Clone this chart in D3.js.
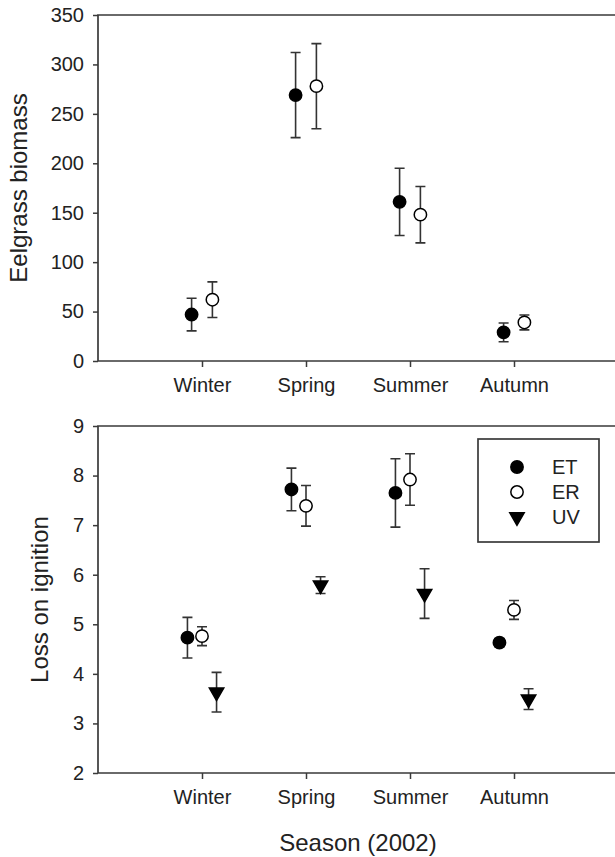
<!DOCTYPE html>
<html>
<head>
<meta charset="utf-8">
<script src="https://cdn.jsdelivr.net/npm/d3@7"></script>
<style>
  body { margin: 0; background: #fff; }
  svg { display: block; font-family: "Liberation Sans", Arial, sans-serif; }
</style>
</head>
<body>
<svg id="chart" width="615" height="857"></svg>
<script>
// data
const seasons = [ 'Winter', 'Spring', 'Summer', 'Autumn' ];

const biomassET = [ 47, 269, 161, 29 ];
const biomassETErr = [ 16.5, 43, 34, 9.5 ];
const biomassER = [ 62, 278, 148, 39 ];
const biomassERErr = [ 18, 43, 28.5, 7.5 ];
const biomassTicks = [ 0, 50, 100, 150, 200, 250, 300, 350 ];

const loiET = [ 4.73, 7.72, 7.65, 4.63 ];
const loiETErr = [ 0.41, 0.43, 0.69, 0.08 ];
const loiER = [ 4.76, 7.39, 7.92, 5.29 ];
const loiERErr = [ 0.19, 0.41, 0.52, 0.19 ];
const loiUV = [ 3.63, 5.79, 5.62, 3.49 ];
const loiUVErr = [ 0.40, 0.17, 0.50, 0.21 ];
const loiTicks = [ 2, 3, 4, 5, 6, 7, 8, 9 ];

const legendNames = [ 'ET', 'ER', 'UV' ];

const ink = '#222';
const svg = d3.select( '#chart' );

// both panels share the category axis (domain 0..5, right edge runs off the page)
const x = d3.scaleLinear().domain( [ 0, 5 ] ).range( [ 98, 618 ] );

function series( values, errs, offset, shape ) {
	return values.map( ( v, i ) => ( { x: i + 1 + offset, y: v, e: errs[ i ], shape } ) );
}

function renderPanel( opts ) {
	const y = d3.scaleLinear().domain( opts.domain ).range( [ opts.bottom, opts.top ] );
	const g = svg.append( 'g' );

	// frame: left, top and bottom lines
	g.append( 'path' )
		.attr( 'd', `M${ x( 5 ) },${ y( opts.domain[ 1 ] ) }H${ x( 0 ) }V${ y( opts.domain[ 0 ] ) }H${ x( 5 ) }` )
		.attr( 'fill', 'none' )
		.attr( 'stroke', '#3a3a3a' )
		.attr( 'stroke-width', 1.7 );

	const yAxis = d3.axisLeft( y )
		.tickValues( opts.ticks )
		.tickFormat( d3.format( 'd' ) )
		.tickSize( 5 )
		.tickSizeOuter( 0 )
		.tickPadding( 9 );
	const ya = g.append( 'g' )
		.attr( 'transform', `translate(${ x( 0 ) },0)` )
		.call( yAxis );
	ya.select( '.domain' ).remove();

	const xAxis = d3.axisBottom( x )
		.tickValues( [ 1, 2, 3, 4 ] )
		.tickFormat( d => seasons[ d - 1 ] )
		.tickSize( 6 )
		.tickSizeOuter( 0 )
		.tickPadding( 11 );
	const xa = g.append( 'g' )
		.attr( 'transform', `translate(0,${ y( opts.domain[ 0 ] ) })` )
		.call( xAxis );
	xa.select( '.domain' ).remove();

	g.selectAll( '.tick line' ).attr( 'stroke', '#3a3a3a' ).attr( 'stroke-width', 1.5 );
	g.selectAll( '.tick text' )
		.attr( 'fill', ink )
		.style( 'font-size', '20px' );

	// y title
	g.append( 'text' )
		.attr( 'transform', `translate(${ opts.titleX },${ ( y.range()[ 0 ] + y.range()[ 1 ] ) / 2 }) rotate(-90)` )
		.attr( 'text-anchor', 'middle' )
		.attr( 'fill', ink )
		.style( 'font-size', '24px' )
		.text( opts.title );

	// error bars then markers
	const pts = opts.series.flat();
	const bars = g.append( 'g' )
		.attr( 'stroke', '#333' )
		.attr( 'stroke-width', 1.6 )
		.attr( 'fill', 'none' );
	bars.selectAll( 'path' )
		.data( pts )
		.join( 'path' )
		.attr( 'd', d => {
			const cx = x( d.x );
			const t = y( d.y + d.e );
			const b = y( d.y - d.e );
			return `M${ cx },${ t }V${ b }M${ cx - 5 },${ t }H${ cx + 5 }M${ cx - 5 },${ b }H${ cx + 5 }`;
		} );

	g.append( 'g' )
		.selectAll( 'path' )
		.data( pts )
		.join( 'path' )
		.attr( 'transform', d => `translate(${ x( d.x ) },${ y( d.y ) })${ d.shape === 'tri' ? ' rotate(180)' : '' }` )
		.attr( 'd', d => markerPath( d.shape ) )
		.attr( 'fill', d => d.shape === 'open' ? '#fff' : '#000' )
		.attr( 'stroke', '#000' )
		.attr( 'stroke-width', 1.5 );

	return y;
}

function markerPath( shape ) {
	if ( shape === 'tri' ) {
		return d3.symbol( d3.symbolTriangle, 90 )();
	}
	return d3.symbol( d3.symbolCircle, 120 )();
}

renderPanel( {
	domain: [ 0, 350 ],
	top: 15,
	bottom: 361,
	ticks: biomassTicks,
	title: 'Eelgrass biomass',
	titleX: 27,
	series: [
		series( biomassET, biomassETErr, -0.1, 'filled' ),
		series( biomassER, biomassERErr, 0.1, 'open' ),
	],
} );

renderPanel( {
	domain: [ 2, 9 ],
	top: 426,
	bottom: 773,
	ticks: loiTicks,
	title: 'Loss on ignition',
	titleX: 48,
	series: [
		series( loiET, loiETErr, -0.14, 'filled' ),
		series( loiER, loiERErr, 0, 'open' ),
		series( loiUV, loiUVErr, 0.14, 'tri' ),
	],
} );

// x title
svg.append( 'text' )
	.attr( 'x', ( x( 0 ) + x( 5 ) ) / 2 )
	.attr( 'y', 851 )
	.attr( 'text-anchor', 'middle' )
	.attr( 'fill', ink )
	.style( 'font-size', '24px' )
	.text( 'Season (2002)' );

// legend
const legend = svg.append( 'g' ).attr( 'transform', 'translate(478,439)' );
legend.append( 'rect' )
	.attr( 'width', 121 )
	.attr( 'height', 103 )
	.attr( 'fill', '#fff' )
	.attr( 'stroke', '#3a3a3a' )
	.attr( 'stroke-width', 1.7 );
const shapes = [ 'filled', 'open', 'tri' ];
const items = legend.selectAll( 'g' )
	.data( legendNames )
	.join( 'g' )
	.attr( 'transform', ( d, i ) => `translate(0,${ 28 + i * 25 })` );
items.append( 'path' )
	.attr( 'transform', ( d, i ) => `translate(39,0)${ shapes[ i ] === 'tri' ? ' rotate(180)' : '' }` )
	.attr( 'd', ( d, i ) => markerPath( shapes[ i ] ) )
	.attr( 'fill', ( d, i ) => shapes[ i ] === 'open' ? '#fff' : '#000' )
	.attr( 'stroke', '#000' )
	.attr( 'stroke-width', 1.5 );
items.append( 'text' )
	.attr( 'x', 74 )
	.attr( 'dy', '0.35em' )
	.attr( 'fill', ink )
	.style( 'font-size', '20px' )
	.text( d => d );
</script>
</body>
</html>
